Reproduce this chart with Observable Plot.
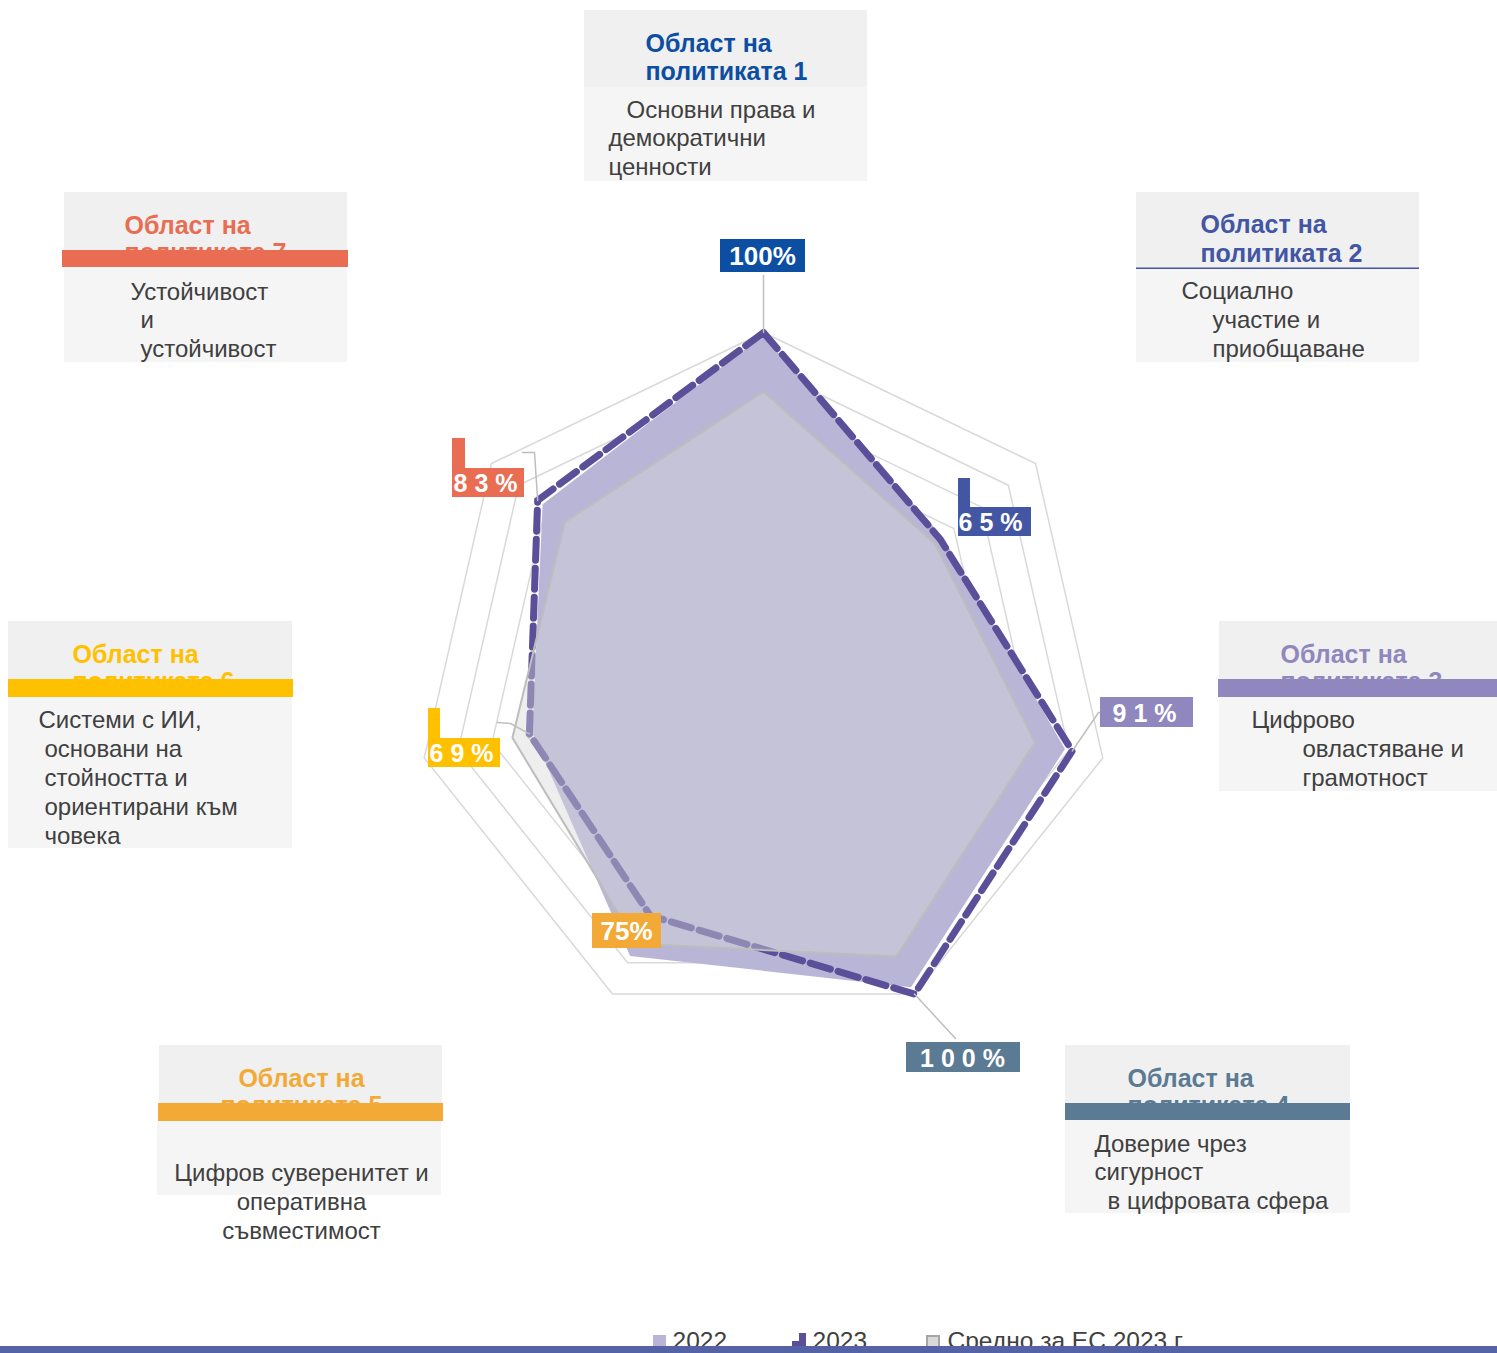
<!DOCTYPE html>
<html>
<head>
<meta charset="utf-8">
<script src="https://cdn.jsdelivr.net/npm/d3@7"></script>
<script src="https://cdn.jsdelivr.net/npm/@observablehq/plot@0.6"></script>
<style>
  html, body { margin: 0; padding: 0; background: #ffffff; }
  #chart svg { display: block; }
</style>
</head>
<body>
<div id="chart"></div>
<script>
// ---------------- DATA ----------------
const areaTitleLines = [
  ["Област на", "политиката 1"],
  ["Област на", "политиката 2"],
  ["Област на", "политиката 3"],
  ["Област на", "политиката 4"],
  ["Област на", "политиката 5"],
  ["Област на", "политиката 6"],
  ["Област на", "политиката 7"]
];
const areaDescriptions = [
  ["Основни права и", "демократични", "ценности"],
  ["Социално", "участие и", "приобщаване"],
  ["Цифрово", "овластяване и", "грамотност"],
  ["Доверие чрез", "сигурност", "в цифровата сфера"],
  ["Цифров суверенитет и", "оперативна", "съвместимост"],
  ["Системи с ИИ,", "основани на", "стойността и", "ориентирани към", "човека"],
  ["Устойчивост", "и", "устойчивост"]
];
const values2022 = [99, 66, 89, 98, 88, 68, 81];
const values2023 = [100, 65, 91, 100, 75, 69, 83];
const valuesEU   = [83, 63, 80, 88, 84, 74, 73];
const seriesNames = ["2022", "2023", "Средно за ЕС 2023 г."];
const ringLevels = [10, 20, 30, 40, 50, 60, 70, 80, 90, 100];

// ---------------- STYLE / LAYOUT ----------------
const areaColors = ["#0b4ea2", "#4356a3", "#8f87bd", "#5b7a93", "#f3a935", "#ffc000", "#e96d52"];
const W = 1497, H = 1353, CX = 763, CY = 680, PPU = 3.48; // pixels per percentage point
const X = px => (px - CX) / PPU;
const Y = py => (py - CY) / PPU;

const valueLabelLayout = [
  {box: [720, 239, 805, 272],  flag: null,               leader: [[763, 275]],              textX: 762,  spaced: false},
  {box: [958, 507, 1031, 536], flag: [958, 478, 970, 507], leader: [],                      textX: 990,  spaced: true},
  {box: [1100, 697, 1193, 727], flag: null,              leader: [[1110, 712], [1098, 712]], textX: 1144, spaced: true},
  {box: [906, 1042, 1020, 1072], flag: null,             leader: [[955, 1038]],             textX: 962,  spaced: true},
  {box: [592, 913, 661, 948],  flag: null,               leader: [],                        textX: 626,  spaced: false},
  {box: [428, 738, 500, 767],  flag: [428, 708, 440, 738], leader: [[497, 722], [510, 723]], textX: 461,  spaced: true},
  {box: [452, 468, 524, 497],  flag: [452, 438, 465, 468], leader: [[522, 452], [534, 452]], textX: 485,  spaced: true}
];

// titleY: centre of first title line; lineGap: offset of the second line (partly under the bar where there is one)
const areaLayout = [
  {header: [584, 10, 867, 87],    body: [584, 87, 867, 181],   bar: null, rule: null, titleX: 645, titleAnchor: "start", titleY: 43, lineGap: 28.5, bodyX: [626, 608, 608], bodyAnchor: "start", bodyY: [110, 138, 167]},
  {header: [1136, 192, 1419, 268], body: [1136, 269, 1419, 362], bar: null, rule: [1136, 267.5, 1419, 269], titleX: 1200, titleAnchor: "start", titleY: 224, lineGap: 29, bodyX: [1181, 1212, 1212], bodyAnchor: "start", bodyY: [291, 320, 349]},
  {header: [1219, 621, 1497, 697], body: [1219, 697, 1497, 791], bar: [1218, 679, 1497, 697], rule: null, titleX: 1280, titleAnchor: "start", titleY: 654, lineGap: 27, bodyX: [1251, 1302, 1302], bodyAnchor: "start", bodyY: [720, 749, 778]},
  {header: [1065, 1045, 1350, 1120], body: [1065, 1120, 1350, 1213], bar: [1065, 1103, 1350, 1120], rule: null, titleX: 1127, titleAnchor: "start", titleY: 1078, lineGap: 27, bodyX: [1094, 1094, 1107], bodyAnchor: "start", bodyY: [1144, 1172, 1201]},
  {header: [159, 1045, 442, 1121], body: [157, 1121, 441, 1195], bar: [158, 1103, 443, 1121], rule: null, titleX: 301, titleAnchor: "middle", titleY: 1078, lineGap: 27, bodyX: [301, 301, 301], bodyAnchor: "middle", bodyY: [1173, 1202, 1231]},
  {header: [8, 621, 292, 697],     body: [8, 697, 292, 848],     bar: [8, 679, 293, 697], rule: null, titleX: 72, titleAnchor: "start", titleY: 654, lineGap: 27, bodyX: [38, 44, 44, 44, 44], bodyAnchor: "start", bodyY: [720, 749, 778, 807, 836]},
  {header: [64, 192, 347, 267],    body: [64, 267, 347, 362],    bar: [62, 250, 348, 267], rule: null, titleX: 124, titleAnchor: "start", titleY: 225, lineGap: 27, bodyX: [130, 140, 140], bodyAnchor: "start", bodyY: [292, 320, 349]}
];

const legendLayout = {
  y: 1341,
  textX: [672, 812, 947]
};

// ---------------- GEOMETRY ----------------
const N = 7;
const ang = k => k * 2 * Math.PI / N;
const pt = (v, k) => ({x: v * Math.sin(ang(k)), y: -v * Math.cos(ang(k))});
const poly = vals => [...vals, vals[0]].map((v, i) => ({...pt(v, i % N), i}));
const rectOf = (b, extra = {}) => ({x1: X(b[0]), y1: Y(b[1]), x2: X(b[2]), y2: Y(b[3]), ...extra});

const ringData = ringLevels.flatMap(l => d3.range(N + 1).map(i => ({...pt(l, i % N), level: l})));

const fmtLabel = (v, spaced) => spaced ? String(v).split("").join(" ") + " %" : v + "%";

const FONT = "'Liberation Sans', Arial, Helvetica, sans-serif";
const marks = [];

// grid rings
marks.push(Plot.line(ringData, {x: "x", y: "y", z: "level", stroke: "#d9d9d9", strokeWidth: 1.5}));
// 2022 area
marks.push(Plot.area(poly(values2022), {x1: "x", y1: "y", x2: () => 0, y2: () => 0, fill: "#b8b5d6"}));
// 2023 dashed
marks.push(Plot.line(poly(values2023), {x: "x", y: "y", stroke: "#5b4f9a", strokeWidth: 7, strokeDasharray: "21 8", strokeLinejoin: "miter", strokeMiterlimit: 10}));
// EU average
marks.push(Plot.area(poly(valuesEU), {x1: "x", y1: "y", x2: () => 0, y2: () => 0, fill: "#d6d6d8", fillOpacity: 0.42}));
marks.push(Plot.line(poly(valuesEU), {x: "x", y: "y", stroke: "#bdbdbd", strokeWidth: 2}));

// leaders
const leaderData = valueLabelLayout.flatMap((L, k) => L.leader.length
  ? [...L.leader.map(([px, py]) => ({x: X(px), y: Y(py), k})), {...pt(values2023[k], k), k}]
  : []);
marks.push(Plot.line(leaderData, {x: "x", y: "y", z: "k", stroke: "#bfbfbf", strokeWidth: 1.5}));

// value label boxes
marks.push(Plot.rect(valueLabelLayout.map((L, k) => rectOf(L.box, {fill: areaColors[k]})), {x1: "x1", y1: "y1", x2: "x2", y2: "y2", fill: "fill"}));
marks.push(Plot.rect(valueLabelLayout.filter(L => L.flag).map(L => rectOf(L.flag, {fill: areaColors[valueLabelLayout.indexOf(L)]})), {x1: "x1", y1: "y1", x2: "x2", y2: "y2", fill: "fill"}));
marks.push(Plot.text(valueLabelLayout.map((L, k) => ({
  x: X(L.textX), y: Y((L.box[1] + L.box[3]) / 2 + 1), text: fmtLabel(values2023[k], L.spaced), size: L.spaced ? 25 : 26
})), {x: "x", y: "y", text: "text", fill: "#ffffff", fontWeight: "bold", fontSize: "size", lineAnchor: "middle", textAnchor: "middle", fontFamily: FONT}));

// category boxes
areaLayout.forEach((L, k) => {
  marks.push(Plot.rect([rectOf(L.header)], {x1: "x1", y1: "y1", x2: "x2", y2: "y2", fill: "#f0f0f0"}));
  marks.push(Plot.rect([rectOf(L.body)], {x1: "x1", y1: "y1", x2: "x2", y2: "y2", fill: "#f5f5f5"}));
  marks.push(Plot.text(areaTitleLines[k].map((t, j) => ({x: X(L.titleX), y: Y(L.titleY + j * L.lineGap), t})),
    {x: "x", y: "y", text: "t", fill: areaColors[k], fontWeight: "bold", fontSize: 25, textAnchor: L.titleAnchor, lineAnchor: "middle", fontFamily: FONT}));
  if (L.bar) marks.push(Plot.rect([rectOf(L.bar)], {x1: "x1", y1: "y1", x2: "x2", y2: "y2", fill: areaColors[k]}));
  if (L.rule) marks.push(Plot.rect([rectOf(L.rule)], {x1: "x1", y1: "y1", x2: "x2", y2: "y2", fill: areaColors[k]}));
  marks.push(Plot.text(areaDescriptions[k].map((t, j) => ({x: X(L.bodyX[j]), y: Y(L.bodyY[j]), t})),
    {x: "x", y: "y", text: "t", fill: "#404040", fontSize: 24, textAnchor: L.bodyAnchor, lineAnchor: "middle", fontFamily: FONT}));
});

// legend
const ly = legendLayout.y;
marks.push(Plot.rect([
  rectOf([653, 1335, 666, 1350], {fill: "#b8b5d6", stroke: "none"}),
  rectOf([792, 1341, 806, 1352], {fill: "#5b4f9a", stroke: "none"}),
  rectOf([799, 1333, 806, 1341], {fill: "#5b4f9a", stroke: "none"}),
  rectOf([927, 1336, 939, 1350], {fill: "#d9d9d9", stroke: "#a6a6a6"})
], {x1: "x1", y1: "y1", x2: "x2", y2: "y2", fill: "fill", stroke: "stroke", strokeWidth: 2}));
marks.push(Plot.text(seriesNames.map((t, j) => ({x: X(legendLayout.textX[j]), y: Y(ly), t})),
  {x: "x", y: "y", text: "t", fill: "#404040", fontSize: 24.5, textAnchor: "start", lineAnchor: "middle", fontFamily: FONT}));
// bottom bar
marks.push(Plot.rect([rectOf([0, 1346, W, H])], {x1: "x1", y1: "y1", x2: "x2", y2: "y2", fill: "#5563a6"}));

const chart = Plot.plot({
  width: W,
  height: H,
  margin: 0,
  x: {domain: [X(0), X(W)], range: [0, W], axis: null},
  y: {domain: [Y(0), Y(H)], range: [0, H], axis: null},
  color: {type: "identity"},
  style: {fontFamily: FONT, background: "#ffffff", overflow: "hidden"},
  marks
});
document.getElementById("chart").appendChild(chart);
</script>
</body>
</html>
